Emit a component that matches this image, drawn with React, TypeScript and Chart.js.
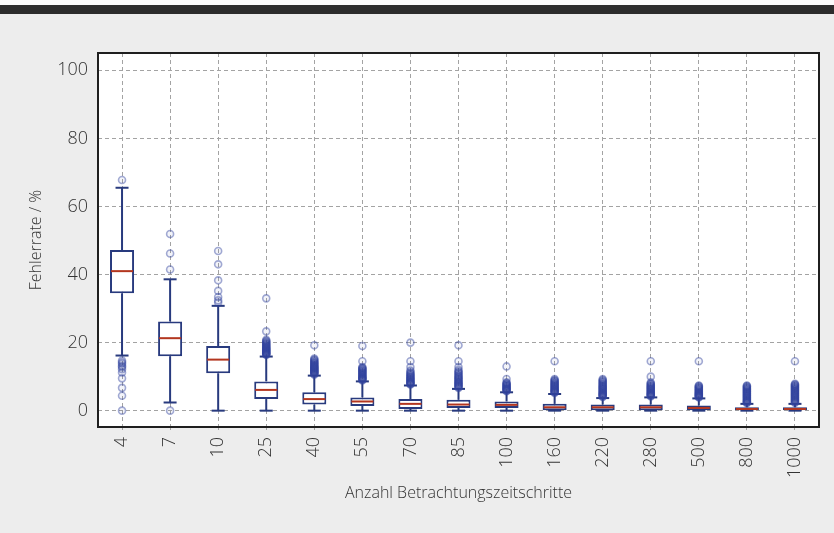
import { useEffect, useRef } from 'react';
import { Chart, registerables } from 'chart.js';

Chart.register(...registerables);

// Number of time steps considered (x categories)
const categories = ['4', '7', '10', '25', '40', '55', '70', '85', '100', '160', '220', '280', '500', '800', '1000'];

// Box plot statistics of the error rate in %
const whiskerLow = [16.2, 2.4, 0, 0, 0, 0, 0, 0, 0, 0, 0, 0, 0, 0, 0];
const quartile1 = [34.5, 16.0, 11.0, 3.4, 1.8, 1.4, 0.5, 0.8, 0.8, 0, 0, 0, 0, 0, 0];
const medians = [41.0, 21.3, 15.0, 6.1, 3.4, 2.7, 2.0, 1.8, 1.7, 1.0, 1.0, 1.0, 0.8, 0.5, 0.5];
const quartile3 = [47.2, 26.2, 19.0, 8.6, 5.4, 3.9, 3.4, 3.2, 2.7, 2.0, 1.8, 1.8, 1.5, 1.0, 1.0];
const whiskerHigh = [65.5, 38.6, 30.8, 15.9, 10.3, 8.6, 7.4, 6.4, 5.4, 4.9, 3.7, 3.9, 3.6, 2.0, 2.0];

// Outliers per category
const outliers: number[][] = [
  [67.8, 14.7, 14.2, 13.8, 13.2, 12.8, 12.2, 11.2, 9.5, 6.7, 4.4, 0],
  [51.9, 46.2, 41.5, 0],
  [46.9, 43.0, 38.3, 35.2, 33.4, 32.4, 31.8],
  [33.0, 23.3, 20.8, 20.5, 20.3, 20.0, 19.8, 19.6, 19.4, 19.2, 19.0, 18.8, 18.6, 18.4, 18.3, 18.1, 18.0, 17.8, 17.7, 17.5, 17.4, 17.2, 17.1, 16.9, 16.8, 16.7, 16.5, 16.4],
  [19.2, 15.3, 15.0, 14.8, 14.5, 14.3, 14.1, 13.9, 13.7, 13.5, 13.3, 13.1, 12.9, 12.8, 12.6, 12.5, 12.3, 12.2, 12.0, 11.9, 11.7, 11.6, 11.4, 11.3, 11.1, 11.0, 10.8, 10.6],
  [19.0, 14.5, 12.8, 12.6, 12.4, 12.2, 12.0, 11.8, 11.6, 11.4, 11.2, 11.0, 10.8, 10.6, 10.4, 10.2, 10.0, 9.8, 9.7, 9.5, 9.4, 9.2, 9.1, 8.9],
  [20.0, 14.5, 12.8, 11.8, 11.4, 11.0, 10.8, 10.5, 10.3, 10.0, 9.8, 9.6, 9.4, 9.2, 9.0, 8.8, 8.6, 8.4, 8.3, 8.1, 8.0, 7.8, 7.7],
  [19.2, 14.5, 12.8, 12.0, 11.6, 11.3, 11.0, 10.6, 10.3, 10.0, 9.8, 9.5, 9.3, 9.0, 8.8, 8.5, 8.3, 8.1, 7.9, 7.7, 7.5, 7.3, 7.1, 6.9, 6.7],
  [13.0, 9.3, 8.3, 8.1, 7.9, 7.7, 7.5, 7.3, 7.1, 7.0, 6.8, 6.6, 6.5, 6.3, 6.2, 6.0, 5.9, 5.7],
  [14.5, 9.3, 9.0, 8.8, 8.6, 8.3, 8.1, 7.9, 7.7, 7.5, 7.3, 7.1, 6.9, 6.7, 6.5, 6.3, 6.2, 6.0, 5.8, 5.7, 5.5, 5.4, 5.2],
  [9.3, 9.0, 8.8, 8.5, 8.3, 8.0, 7.8, 7.5, 7.3, 7.1, 6.9, 6.7, 6.5, 6.3, 6.1, 5.9, 5.7, 5.5, 5.3, 5.1, 5.0, 4.8, 4.7, 4.5, 4.4, 4.2, 4.0],
  [14.5, 10.0, 8.3, 8.0, 7.8, 7.5, 7.3, 7.1, 6.9, 6.7, 6.5, 6.3, 6.1, 5.9, 5.7, 5.5, 5.3, 5.1, 5.0, 4.8, 4.7, 4.5, 4.4, 4.2],
  [14.5, 7.4, 7.2, 7.0, 6.8, 6.6, 6.4, 6.2, 6.0, 5.8, 5.6, 5.4, 5.2, 5.1, 4.9, 4.8, 4.6, 4.5, 4.3, 4.2, 4.0, 3.9],
  [7.4, 7.2, 7.0, 6.8, 6.6, 6.4, 6.2, 6.0, 5.8, 5.6, 5.4, 5.2, 5.0, 4.8, 4.6, 4.4, 4.2, 4.0, 3.8, 3.6, 3.4, 3.2, 3.0, 2.8, 2.7, 2.5, 2.4, 2.2],
  [14.5, 7.9, 7.7, 7.5, 7.3, 7.1, 6.9, 6.7, 6.5, 6.3, 6.1, 5.9, 5.7, 5.5, 5.3, 5.1, 4.9, 4.7, 4.5, 4.3, 4.1, 3.9, 3.7, 3.5, 3.3, 3.1, 2.9, 2.7, 2.5, 2.3],
];

const yTicks = [0, 20, 40, 60, 80, 100];

const NAVY = '#283a7e';
const MEDIAN_RED = '#b3361f';
const GRID = '#a3a3a3';
const TEXT = '#333333';
const FONT = "'Open Sans', 'Lato', sans-serif";

const boxExtras = {
  id: 'boxExtras',
  beforeDraw(chart: any) {
    const { ctx, chartArea } = chart;
    ctx.save();
    ctx.fillStyle = '#ffffff';
    ctx.fillRect(chartArea.left, chartArea.top, chartArea.right - chartArea.left, chartArea.bottom - chartArea.top);
    ctx.restore();
  },
  beforeDatasetsDraw(chart: any) {
    const { ctx } = chart;
    const xs = chart.scales.x;
    const ys = chart.scales.y;
    ctx.save();
    ctx.strokeStyle = NAVY;
    ctx.lineWidth = 2;
    categories.forEach((_, i) => {
      const x = xs.getPixelForValue(i);
      const cap = 6.5;
      const segs: [number, number][] = [
        [whiskerLow[i], quartile1[i]],
        [quartile3[i], whiskerHigh[i]],
      ];
      segs.forEach(([a, b]) => {
        ctx.beginPath();
        ctx.moveTo(x, ys.getPixelForValue(a));
        ctx.lineTo(x, ys.getPixelForValue(b));
        ctx.stroke();
      });
      [whiskerLow[i], whiskerHigh[i]].forEach((v) => {
        const y = ys.getPixelForValue(v);
        ctx.beginPath();
        ctx.moveTo(x - cap, y);
        ctx.lineTo(x + cap, y);
        ctx.stroke();
      });
    });
    ctx.restore();
  },
  afterDatasetsDraw(chart: any) {
    const { ctx } = chart;
    const ys = chart.scales.y;
    const meta = chart.getDatasetMeta(0);
    ctx.save();
    ctx.strokeStyle = MEDIAN_RED;
    ctx.lineWidth = 2;
    meta.data.forEach((bar: any, i: number) => {
      const y = ys.getPixelForValue(medians[i]);
      const half = bar.width / 2 - 1;
      ctx.beginPath();
      ctx.moveTo(bar.x - half, y);
      ctx.lineTo(bar.x + half, y);
      ctx.stroke();
    });
    ctx.restore();
  },
  afterDraw(chart: any) {
    const { ctx, chartArea } = chart;
    ctx.save();
    ctx.strokeStyle = '#1f1f1f';
    ctx.lineWidth = 2;
    ctx.strokeRect(chartArea.left, chartArea.top, chartArea.right - chartArea.left, chartArea.bottom - chartArea.top);
    ctx.restore();
  },
};

export default function App() {
  const canvasRef = useRef<HTMLCanvasElement | null>(null);

  useEffect(() => {
    if (!canvasRef.current) return;
    const outlierPoints = outliers.flatMap((vals, i) => vals.map((v) => ({ x: categories[i], y: v })));

    const chart = new Chart(canvasRef.current, {
      type: 'bar',
      data: {
        labels: categories,
        datasets: [
          {
            type: 'bar',
            data: categories.map((_, i) => [quartile1[i], quartile3[i]]) as any,
            backgroundColor: '#ffffff',
            borderColor: NAVY,
            borderWidth: 2,
            borderSkipped: false,
            barPercentage: 0.5,
            categoryPercentage: 1,
          },
          {
            type: 'scatter',
            data: outlierPoints as any,
            pointRadius: 3.5,
            pointHoverRadius: 3.5,
            pointBorderWidth: 1.6,
            pointBackgroundColor: 'rgba(52,68,160,0.06)',
            pointBorderColor: 'rgba(52,68,160,0.45)',
            showLine: false,
          } as any,
        ],
      },
      options: {
        animation: false,
        responsive: false,
        maintainAspectRatio: false,
        layout: { padding: { top: 53, right: 15, left: 0, bottom: 0 } },
        plugins: { legend: { display: false }, tooltip: { enabled: false } },
        scales: {
          x: {
            type: 'category',
            offset: true,
            grid: {
              offset: false,
              color: GRID,
              lineWidth: 1,
              drawTicks: true,
              tickLength: 6,
              tickColor: GRID,
              tickBorderDash: [3, 3],
            },
            border: { display: false, dash: [4, 3] },
            ticks: {
              minRotation: 90,
              maxRotation: 90,
              autoSkip: false,
              padding: 4,
              color: TEXT,
              font: { family: FONT, size: 18, weight: '300' as any },
            },
            title: {
              display: true,
              text: 'Anzahl Betrachtungszeitschritte',
              color: TEXT,
              font: { family: FONT, size: 16, weight: '300' as any },
              padding: { top: 4, bottom: 30 },
            },
            afterFit(scale: any) {
              scale.height = 106;
            },
          },
          y: {
            type: 'linear',
            min: -4.8,
            max: 105.1,
            afterBuildTicks(scale: any) {
              scale.ticks = yTicks.map((v) => ({ value: v }));
            },
            grid: { color: GRID, lineWidth: 1, drawTicks: false },
            border: { display: false, dash: [4, 3] },
            ticks: {
              padding: 10,
              color: TEXT,
              font: { family: FONT, size: 18, weight: '300' as any },
            },
            title: {
              display: true,
              text: 'Fehlerrate / %',
              color: TEXT,
              font: { family: FONT, size: 16, weight: '300' as any },
              padding: { top: 27, bottom: 0 },
            },
            afterFit(scale: any) {
              scale.width = 98;
            },
          },
        },
      },
      plugins: [boxExtras],
    });

    return () => chart.destroy();
  }, []);

  return (
    <div style={{ position: 'absolute', left: 0, top: 0, width: 834, height: 533, background: '#ededed', overflow: 'hidden' }}>
      <div style={{ position: 'absolute', left: 0, top: 0, width: 834, height: 5, background: '#fafafa' }} />
      <div style={{ position: 'absolute', left: 0, top: 5, width: 834, height: 9, background: '#2c2c2c' }} />
      <canvas ref={canvasRef} width={834} height={533} style={{ position: 'absolute', left: 0, top: 0, width: 834, height: 533 }} />
    </div>
  );
}
